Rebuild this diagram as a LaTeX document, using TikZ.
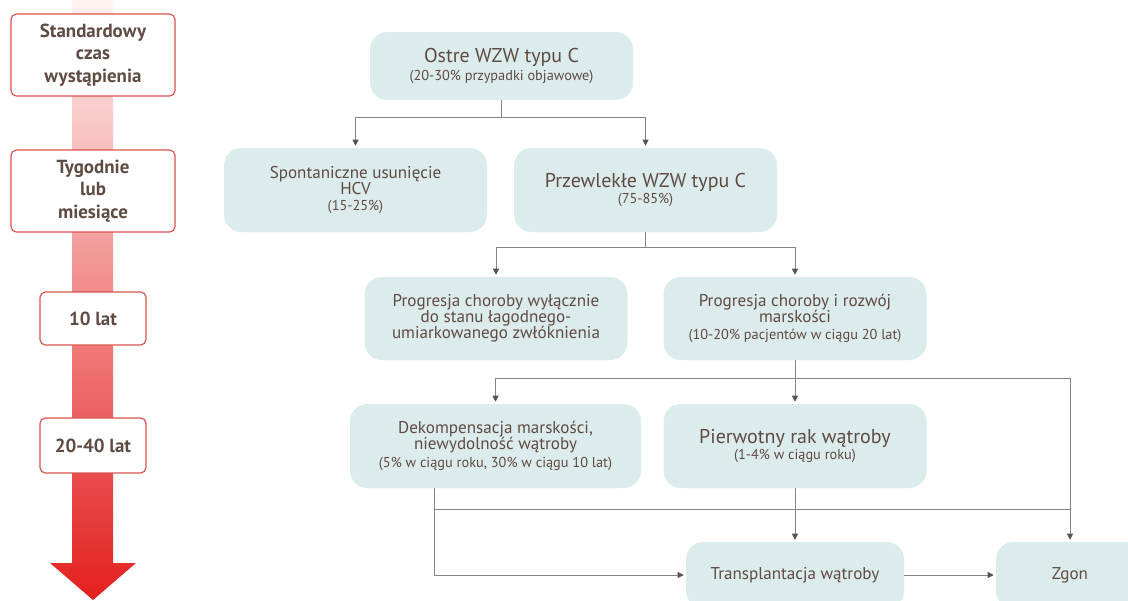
\documentclass[tikz,border=0pt]{standalone}
\usepackage{fontspec}
\setmainfont{PT Sans}
\usetikzlibrary{arrows.meta}
\definecolor{boxfill}{HTML}{DCEBEC}
\definecolor{txt}{HTML}{5E4B43}
\definecolor{lbord}{HTML}{D9534F}
\definecolor{lnc}{HTML}{858585}
\definecolor{tipc}{HTML}{555555}
\definecolor{barTop}{HTML}{FEF3F1}
\definecolor{barMid}{HTML}{F4A792}
\definecolor{barBot}{HTML}{E3201F}
\newcommand\ftitle{\fontsize{15}{18}\selectfont}
\newcommand\fnorm{\fontsize{12.8}{15}\selectfont}
\newcommand\fsmall{\fontsize{10.75}{15}\selectfont}
\begin{document}
\begin{tikzpicture}[x=0.75pt,y=-0.75pt,
  flow/.style={rectangle, rounded corners=13pt, fill=boxfill, text=txt, align=center,
    inner sep=0pt, minimum width=197.25pt, minimum height=63pt},
  timebox/.style={rectangle, rounded corners=4pt, draw=lbord, line width=0.9pt, fill=white,
    text=txt, align=center, inner sep=0pt,
    font=\bfseries\fontsize{14.2}{16.9}\selectfont, minimum width=123pt, minimum height=61.5pt},
  conn/.style={draw=lnc, line width=0.75pt},
  arr/.style={conn, shorten >=1.5pt, -{Triangle[width=4.5pt,length=4.5pt,color=tipc]}}]
\clip (0,0) rectangle (1128,600);
\fill[white] (0,0) rectangle (1128,600);

% time arrow
\shade[top color=barTop, middle color=barMid, bottom color=barBot]
  (72,0) -- (113,0) -- (113,563) -- (136,563) -- (93,600) -- (50,563) -- (72,563) -- cycle;

\node[timebox] (t1) at (93,55) {Standardowy\\czas\\wystąpienia};
\node[timebox] (t2) at (93,191) {Tygodnie\\lub\\miesiące};
\node[timebox, minimum width=79.5pt, minimum height=39.75pt] (t3) at (93,318.5) {10 lat};
\node[timebox, minimum width=79.5pt, minimum height=41.25pt] (t4) at (93,445.5) {20-40 lat};

% flow boxes
\node[flow, minimum height=51pt] (ostre) at (501.5,66)
  {{\ftitle Ostre WZW typu C}\\[2pt]{\fsmall (20-30\% przypadki objawowe)}};
\node[flow] (spont) at (355.5,190)
  {{\fnorm Spontaniczne usunięcie}\\{\fnorm HCV}\\{\fsmall (15-25\%)}};
\node[flow] (przew) at (645.5,190)
  {{\ftitle Przewlekłe WZW typu C}\\{\fsmall (75-85\%)}};
\node[flow, minimum height=62.25pt] (prog1) at (496,318.5)
  {{\fnorm Progresja choroby wyłącznie}\\{\fnorm do stanu łagodnego-}\\{\fnorm umiarkowanego zwłóknienia}};
\node[flow, minimum height=62.25pt] (prog2) at (795,318.5)
  {{\fnorm Progresja choroby i rozwój}\\{\fnorm marskości}\\[1pt]{\fsmall (10-20\% pacjentów w ciągu 20 lat)}};
\node[flow, minimum width=218.25pt] (dek) at (495.5,446)
  {{\fnorm Dekompensacja marskości,}\\{\fnorm niewydolność wątroby}\\[1pt]{\fsmall (5\% w ciągu roku, 30\% w ciągu 10 lat)}};
\node[flow] (pierw) at (795,446)
  {{\ftitle Pierwotny rak wątroby}\\{\fsmall (1-4\% w ciągu roku)}};
\node[flow, minimum width=163.5pt, minimum height=49.5pt] (transp) at (795,575)
  {\fnorm Transplantacja wątroby};
\node[flow, minimum width=111pt, minimum height=49.5pt] (zgon) at (1070,575)
  {\fnorm Zgon};

% connectors
\coordinate (j1) at (501.5,117);
\draw[conn] (ostre.south) -- (j1);
\draw[arr] (j1) -| (spont.north);
\draw[arr] (j1) -| (przew.north);

\coordinate (j2) at (645.5,247);
\draw[conn] (przew.south) -- (j2);
\draw[arr] (j2) -| (prog1.north);
\draw[arr] (j2) -| (prog2.north);

\coordinate (j3) at (795,378);
\draw[conn] (prog2.south) -- (j3);
\draw[arr] (j3) -| (dek.north);
\draw[arr] (j3) -- (pierw.north);
\draw[arr] (j3) -| (zgon.north);

\coordinate (k0) at (434,488);
\coordinate (k1) at (434,575);
\coordinate (h1) at (434,509);
\coordinate (h2) at (1070,509);
\draw[arr] (k0) -- (k1) -- (transp.west);
\draw[conn] (h1) -- (h2);
\draw[arr] (pierw.south) -- (transp.north);
\draw[arr] (transp.east) -- (zgon.west);
\end{tikzpicture}
\end{document}
